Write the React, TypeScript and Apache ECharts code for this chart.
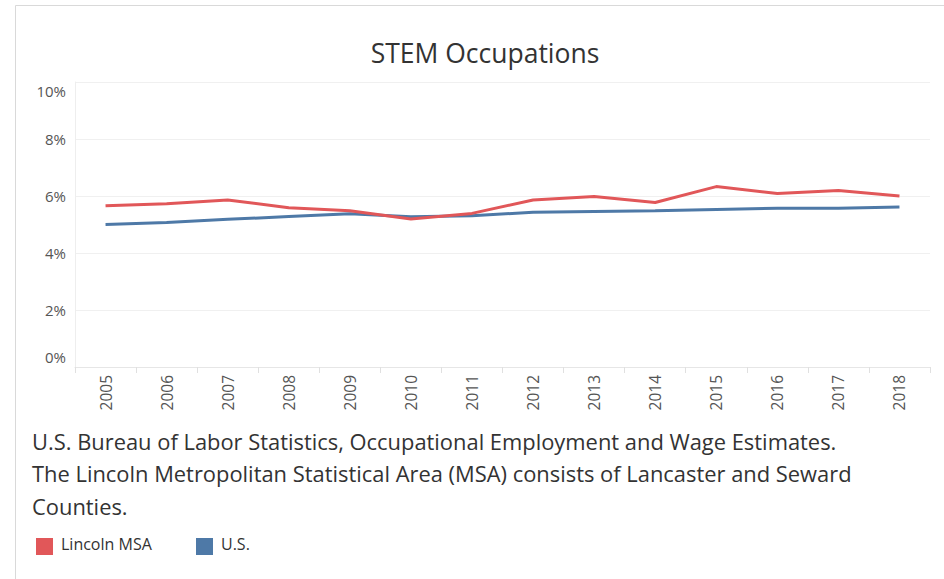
import React, { useEffect, useRef } from "react";
import * as echarts from "echarts";

const years = ["2005","2006","2007","2008","2009","2010","2011","2012","2013","2014","2015","2016","2017","2018"];
const lincolnMSA = [5.66, 5.73, 5.86, 5.59, 5.48, 5.19, 5.39, 5.86, 5.98, 5.77, 6.33, 6.09, 6.19, 6.0];
const us = [5.0, 5.07, 5.18, 5.28, 5.38, 5.27, 5.31, 5.43, 5.46, 5.48, 5.53, 5.57, 5.57, 5.61];
const title = "STEM Occupations";
const noteLines = [
  "U.S. Bureau of Labor Statistics, Occupational Employment and Wage Estimates.",
  "The Lincoln Metropolitan Statistical Area (MSA) consists of Lancaster and Seward",
  "Counties.",
];
const seriesNames = ["Lincoln MSA", "U.S."];
const colors = ["#e15759", "#4e79a7"];
const FONT = "'Open Sans', 'Noto Sans', sans-serif";

export default function App() {
  const ref = useRef<HTMLDivElement>(null);
  useEffect(() => {
    if (!ref.current) return;
    const chart = echarts.init(ref.current, undefined, { renderer: "svg" });
    chart.setOption({
      animation: false,
      backgroundColor: "#fff",
      textStyle: { fontFamily: FONT },
      title: {
        text: title,
        left: 480,
        top: 34,
        textAlign: "center",
        textStyle: { fontFamily: FONT, fontSize: 26.5, fontWeight: "normal", color: "#333" },
      },
      grid: { left: 75, right: 14, top: 82, bottom: 212, containLabel: false },
      xAxis: {
        type: "category",
        data: years,
        boundaryGap: true,
        axisLine: { show: true, lineStyle: { color: "#e6e6e6" } },
        axisTick: { show: true, length: 6, lineStyle: { color: "#e0e0e0" } },
        axisLabel: { rotate: 90, color: "#555", fontSize: 15.5, margin: 8, fontFamily: FONT },
      },
      yAxis: {
        type: "value",
        min: 0,
        max: 10,
        interval: 2,
        axisLine: { show: true, lineStyle: { color: "#eeeeee" } },
        axisTick: { show: false },
        splitLine: { lineStyle: { color: "#f0f0f0" } },
        axisLabel: {
          formatter: (v: number) => (v === 0 ? "{b|0%}" : v === 10 ? "{t|10%}" : v + "%"),
          color: "#555",
          fontSize: 15,
          margin: 9,
          fontFamily: FONT,
          verticalAlignMinLabel: "bottom",
          verticalAlignMaxLabel: "top",
          rich: {
            b: { fontSize: 15, color: "#555", fontFamily: FONT, padding: [0, 0, 3, 0] },
            t: { fontSize: 15, color: "#555", fontFamily: FONT, padding: [1, 0, 0, 0] },
          },
        },
      },
      series: [
        {
          name: seriesNames[0],
          type: "line",
          data: lincolnMSA,
          symbol: "none",
          lineStyle: { color: colors[0], width: 3 },
          itemStyle: { color: colors[0] },
        },
        {
          name: seriesNames[1],
          type: "line",
          data: us,
          symbol: "none",
          lineStyle: { color: colors[1], width: 3 },
          itemStyle: { color: colors[1] },
          z: 1,
        },
      ],
      graphic: [
        {
          type: "rect",
          shape: { x: 15.5, y: 5.5, width: 960, height: 600 },
          style: { fill: "none", stroke: "#d9d9d9", lineWidth: 1 },
          silent: true,
        },
        ...noteLines.map((t, i) => ({
          type: "text",
          left: 32,
          top: 430 + i * 32.5,
          style: { text: t, fontSize: 21.9, fill: "#333", fontFamily: FONT },
        })),
        {
          type: "rect",
          shape: { x: 36, y: 538, width: 17, height: 17 },
          style: { fill: colors[0] },
        },
        {
          type: "text",
          left: 61,
          top: 536,
          style: { text: seriesNames[0], fontSize: 16, fill: "#333", fontFamily: FONT },
        },
        {
          type: "rect",
          shape: { x: 196, y: 538, width: 17, height: 17 },
          style: { fill: colors[1] },
        },
        {
          type: "text",
          left: 221,
          top: 536,
          style: { text: seriesNames[1], fontSize: 16, fill: "#333", fontFamily: FONT },
        },
      ],
    });
    return () => chart.dispose();
  }, []);
  return <div ref={ref} style={{ width: 944, height: 579, position: "fixed", left: 0, top: 0 }} />;
}
